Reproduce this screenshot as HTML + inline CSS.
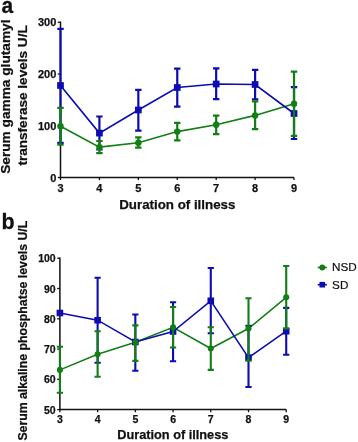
<!DOCTYPE html>
<html><head><meta charset="utf-8"><style>
html,body{margin:0;padding:0;background:#fff;}
svg{display:block;will-change:transform;}
text{font-family:"Liberation Sans",sans-serif;fill:#111;}
.tk,.b{font-weight:bold;stroke:#111;stroke-width:0.25px;}
.r{stroke:#111;stroke-width:0.2px;}
</style></head><body>
<svg width="358" height="442" viewBox="0 0 358 442">
<path d="M60.50,21.60V177.50H294.02" stroke="#111" stroke-width="1.5" fill="none"/>
<path d="M57.80,22.30H60.50" stroke="#111" stroke-width="1.3"/>
<text x="56.30" y="26.40" text-anchor="end" class="tk" font-size="11">300</text>
<path d="M57.80,74.10H60.50" stroke="#111" stroke-width="1.3"/>
<text x="56.30" y="78.20" text-anchor="end" class="tk" font-size="11">200</text>
<path d="M57.80,125.90H60.50" stroke="#111" stroke-width="1.3"/>
<text x="56.30" y="130.00" text-anchor="end" class="tk" font-size="11">100</text>
<path d="M57.80,177.50H60.50" stroke="#111" stroke-width="1.3"/>
<text x="56.30" y="181.60" text-anchor="end" class="tk" font-size="11">0</text>
<path d="M60.50,177.50V180.10" stroke="#111" stroke-width="1.3"/>
<text x="60.50" y="191.80" text-anchor="middle" class="tk" font-size="11">3</text>
<path d="M99.42,177.50V180.10" stroke="#111" stroke-width="1.3"/>
<text x="99.42" y="191.80" text-anchor="middle" class="tk" font-size="11">4</text>
<path d="M138.34,177.50V180.10" stroke="#111" stroke-width="1.3"/>
<text x="138.34" y="191.80" text-anchor="middle" class="tk" font-size="11">5</text>
<path d="M177.26,177.50V180.10" stroke="#111" stroke-width="1.3"/>
<text x="177.26" y="191.80" text-anchor="middle" class="tk" font-size="11">6</text>
<path d="M216.18,177.50V180.10" stroke="#111" stroke-width="1.3"/>
<text x="216.18" y="191.80" text-anchor="middle" class="tk" font-size="11">7</text>
<path d="M255.10,177.50V180.10" stroke="#111" stroke-width="1.3"/>
<text x="255.10" y="191.80" text-anchor="middle" class="tk" font-size="11">8</text>
<path d="M294.02,177.50V180.10" stroke="#111" stroke-width="1.3"/>
<text x="294.02" y="191.80" text-anchor="middle" class="tk" font-size="11">9</text>
<polyline points="60.50,126.30 99.42,147.10 138.34,142.70 177.26,131.60 216.18,124.70 255.10,115.40 294.02,103.70" fill="none" stroke="#137d16" stroke-width="1.6"/>
<polyline points="60.50,85.50 99.42,133.10 138.34,110.00 177.26,87.50 216.18,84.00 255.10,84.50 294.02,113.50" fill="none" stroke="#0c0cb0" stroke-width="1.6"/>
<path d="M60.50,28.90V142.80M57.30,28.90H63.70M57.30,142.80H63.70" stroke="#0c0cb0" stroke-width="2.2" fill="none"/>
<rect x="57.15" y="82.15" width="6.7" height="6.7" fill="#0c0cb0"/>
<path d="M99.42,116.50V149.50M96.22,116.50H102.62M96.22,149.50H102.62" stroke="#0c0cb0" stroke-width="2.2" fill="none"/>
<rect x="96.07" y="129.75" width="6.7" height="6.7" fill="#0c0cb0"/>
<path d="M138.34,89.80V130.60M135.14,89.80H141.54M135.14,130.60H141.54" stroke="#0c0cb0" stroke-width="2.2" fill="none"/>
<rect x="134.99" y="106.65" width="6.7" height="6.7" fill="#0c0cb0"/>
<path d="M177.26,68.70V106.70M174.06,68.70H180.46M174.06,106.70H180.46" stroke="#0c0cb0" stroke-width="2.2" fill="none"/>
<rect x="173.91" y="84.15" width="6.7" height="6.7" fill="#0c0cb0"/>
<path d="M216.18,68.40V99.20M212.98,68.40H219.38M212.98,99.20H219.38" stroke="#0c0cb0" stroke-width="2.2" fill="none"/>
<rect x="212.83" y="80.65" width="6.7" height="6.7" fill="#0c0cb0"/>
<path d="M255.10,69.80V99.40M251.90,69.80H258.30M251.90,99.40H258.30" stroke="#0c0cb0" stroke-width="2.2" fill="none"/>
<rect x="251.75" y="81.15" width="6.7" height="6.7" fill="#0c0cb0"/>
<path d="M294.02,87.20V139.00M290.82,87.20H297.22M290.82,139.00H297.22" stroke="#0c0cb0" stroke-width="2.2" fill="none"/>
<rect x="290.67" y="110.15" width="6.7" height="6.7" fill="#0c0cb0"/>
<path d="M60.50,107.80V144.60M57.30,107.80H63.70M57.30,144.60H63.70" stroke="#137d16" stroke-width="2.2" fill="none"/>
<circle cx="60.50" cy="126.30" r="3.2" fill="#137d16"/>
<path d="M99.42,141.00V153.10M96.22,141.00H102.62M96.22,153.10H102.62" stroke="#137d16" stroke-width="2.2" fill="none"/>
<circle cx="99.42" cy="147.10" r="3.2" fill="#137d16"/>
<path d="M138.34,137.30V147.70M135.14,137.30H141.54M135.14,147.70H141.54" stroke="#137d16" stroke-width="2.2" fill="none"/>
<circle cx="138.34" cy="142.70" r="3.2" fill="#137d16"/>
<path d="M177.26,122.90V140.30M174.06,122.90H180.46M174.06,140.30H180.46" stroke="#137d16" stroke-width="2.2" fill="none"/>
<circle cx="177.26" cy="131.60" r="3.2" fill="#137d16"/>
<path d="M216.18,115.70V134.20M212.98,115.70H219.38M212.98,134.20H219.38" stroke="#137d16" stroke-width="2.2" fill="none"/>
<circle cx="216.18" cy="124.70" r="3.2" fill="#137d16"/>
<path d="M255.10,101.40V129.10M251.90,101.40H258.30M251.90,129.10H258.30" stroke="#137d16" stroke-width="2.2" fill="none"/>
<circle cx="255.10" cy="115.40" r="3.2" fill="#137d16"/>
<path d="M294.02,71.70V135.80M290.82,71.70H297.22M290.82,135.80H297.22" stroke="#137d16" stroke-width="2.2" fill="none"/>
<circle cx="294.02" cy="103.70" r="3.2" fill="#137d16"/>
<path d="M59.90,257.60V409.60H286.22" stroke="#111" stroke-width="1.5" fill="none"/>
<path d="M57.20,258.20H59.90" stroke="#111" stroke-width="1.3"/>
<text x="55.70" y="262.30" text-anchor="end" class="tk" font-size="10.5">100</text>
<path d="M57.20,288.50H59.90" stroke="#111" stroke-width="1.3"/>
<text x="55.70" y="292.60" text-anchor="end" class="tk" font-size="10.5">90</text>
<path d="M57.20,318.80H59.90" stroke="#111" stroke-width="1.3"/>
<text x="55.70" y="322.90" text-anchor="end" class="tk" font-size="10.5">80</text>
<path d="M57.20,349.10H59.90" stroke="#111" stroke-width="1.3"/>
<text x="55.70" y="353.20" text-anchor="end" class="tk" font-size="10.5">70</text>
<path d="M57.20,379.30H59.90" stroke="#111" stroke-width="1.3"/>
<text x="55.70" y="383.40" text-anchor="end" class="tk" font-size="10.5">60</text>
<path d="M57.20,409.60H59.90" stroke="#111" stroke-width="1.3"/>
<text x="55.70" y="413.70" text-anchor="end" class="tk" font-size="10.5">50</text>
<path d="M59.90,409.60V412.20" stroke="#111" stroke-width="1.3"/>
<text x="59.90" y="422.90" text-anchor="middle" class="tk" font-size="10.5">3</text>
<path d="M97.62,409.60V412.20" stroke="#111" stroke-width="1.3"/>
<text x="97.62" y="422.90" text-anchor="middle" class="tk" font-size="10.5">4</text>
<path d="M135.34,409.60V412.20" stroke="#111" stroke-width="1.3"/>
<text x="135.34" y="422.90" text-anchor="middle" class="tk" font-size="10.5">5</text>
<path d="M173.06,409.60V412.20" stroke="#111" stroke-width="1.3"/>
<text x="173.06" y="422.90" text-anchor="middle" class="tk" font-size="10.5">6</text>
<path d="M210.78,409.60V412.20" stroke="#111" stroke-width="1.3"/>
<text x="210.78" y="422.90" text-anchor="middle" class="tk" font-size="10.5">7</text>
<path d="M248.50,409.60V412.20" stroke="#111" stroke-width="1.3"/>
<text x="248.50" y="422.90" text-anchor="middle" class="tk" font-size="10.5">8</text>
<path d="M286.22,409.60V412.20" stroke="#111" stroke-width="1.3"/>
<text x="286.22" y="422.90" text-anchor="middle" class="tk" font-size="10.5">9</text>
<polyline points="59.90,369.90 97.62,354.20 135.34,342.30 173.06,327.30 210.78,348.50 248.50,328.50 286.22,297.30" fill="none" stroke="#137d16" stroke-width="1.55"/>
<polyline points="59.90,313.00 97.62,320.20 135.34,342.00 173.06,331.50 210.78,300.80 248.50,357.60 286.22,331.20" fill="none" stroke="#0c0cb0" stroke-width="1.55"/>
<rect x="56.60" y="309.70" width="6.6" height="6.6" fill="#0c0cb0"/>
<path d="M97.62,277.80V362.80M94.52,277.80H100.72M94.52,362.80H100.72" stroke="#0c0cb0" stroke-width="2.1" fill="none"/>
<rect x="94.32" y="316.90" width="6.6" height="6.6" fill="#0c0cb0"/>
<path d="M135.34,314.50V370.80M132.24,314.50H138.44M132.24,370.80H138.44" stroke="#0c0cb0" stroke-width="2.1" fill="none"/>
<rect x="132.04" y="338.70" width="6.6" height="6.6" fill="#0c0cb0"/>
<path d="M173.06,302.30V361.20M169.96,302.30H176.16M169.96,361.20H176.16" stroke="#0c0cb0" stroke-width="2.1" fill="none"/>
<rect x="169.76" y="328.20" width="6.6" height="6.6" fill="#0c0cb0"/>
<path d="M210.78,268.00V333.20M207.68,268.00H213.88M207.68,333.20H213.88" stroke="#0c0cb0" stroke-width="2.1" fill="none"/>
<rect x="207.48" y="297.50" width="6.6" height="6.6" fill="#0c0cb0"/>
<path d="M248.50,325.70V387.00M245.40,325.70H251.60M245.40,387.00H251.60" stroke="#0c0cb0" stroke-width="2.1" fill="none"/>
<rect x="245.20" y="354.30" width="6.6" height="6.6" fill="#0c0cb0"/>
<path d="M286.22,307.90V354.80M283.12,307.90H289.32M283.12,354.80H289.32" stroke="#0c0cb0" stroke-width="2.1" fill="none"/>
<rect x="282.92" y="327.90" width="6.6" height="6.6" fill="#0c0cb0"/>
<path d="M59.90,346.70V392.70M56.80,346.70H63.00M56.80,392.70H63.00" stroke="#137d16" stroke-width="2.1" fill="none"/>
<circle cx="59.90" cy="369.90" r="3.05" fill="#137d16"/>
<path d="M97.62,331.30V376.80M94.52,331.30H100.72M94.52,376.80H100.72" stroke="#137d16" stroke-width="2.1" fill="none"/>
<circle cx="97.62" cy="354.20" r="3.05" fill="#137d16"/>
<path d="M135.34,325.40V360.90M132.24,325.40H138.44M132.24,360.90H138.44" stroke="#137d16" stroke-width="2.1" fill="none"/>
<circle cx="135.34" cy="342.30" r="3.05" fill="#137d16"/>
<path d="M173.06,307.00V347.50M169.96,307.00H176.16M169.96,347.50H176.16" stroke="#137d16" stroke-width="2.1" fill="none"/>
<circle cx="173.06" cy="327.30" r="3.05" fill="#137d16"/>
<path d="M210.78,327.30V369.90M207.68,327.30H213.88M207.68,369.90H213.88" stroke="#137d16" stroke-width="2.1" fill="none"/>
<circle cx="210.78" cy="348.50" r="3.05" fill="#137d16"/>
<path d="M248.50,298.20V360.70M245.40,298.20H251.60M245.40,360.70H251.60" stroke="#137d16" stroke-width="2.1" fill="none"/>
<circle cx="248.50" cy="328.50" r="3.05" fill="#137d16"/>
<path d="M286.22,266.00V328.40M283.12,266.00H289.32M283.12,328.40H289.32" stroke="#137d16" stroke-width="2.1" fill="none"/>
<circle cx="286.22" cy="297.30" r="3.05" fill="#137d16"/>
<text transform="translate(1.6,12.5) scale(1,1.08)" class="b" font-size="21">a</text>
<text transform="translate(1.4,228.7) scale(1.02,1.07)" class="b" font-size="21">b</text>
<text transform="translate(10.4,173.8) rotate(-90)" class="b" font-size="13" textLength="154.3" lengthAdjust="spacingAndGlyphs">Serum gamma glutamyl</text>
<text transform="translate(26.7,165.6) rotate(-90)" class="b" font-size="13" textLength="140.3" lengthAdjust="spacingAndGlyphs">transferase levels U/L</text>
<text transform="translate(26.8,440.6) rotate(-90)" class="b" font-size="12.6" textLength="219.8" lengthAdjust="spacingAndGlyphs">Serum alkaline phosphatse levels U/L</text>
<text x="119.2" y="208.8" class="b" font-size="13" textLength="116.2" lengthAdjust="spacingAndGlyphs">Duration of illness</text>
<text x="117.2" y="439.2" class="b" font-size="12.5" textLength="111.2" lengthAdjust="spacingAndGlyphs">Duration of illness</text>
<path d="M317.7,267.5H326.9" stroke="#137d16" stroke-width="1.6"/><circle cx="322.3" cy="267.5" r="2.9" fill="#137d16"/>
<path d="M317.7,284.7H326.9" stroke="#0c0cb0" stroke-width="1.6"/><rect x="319.5" y="281.9" width="5.6" height="5.6" fill="#0c0cb0"/>
<text x="332.1" y="271" class="r" font-size="11.7">NSD</text>
<text x="332.1" y="288.8" class="r" font-size="11.7">SD</text>
</svg>
</body></html>
